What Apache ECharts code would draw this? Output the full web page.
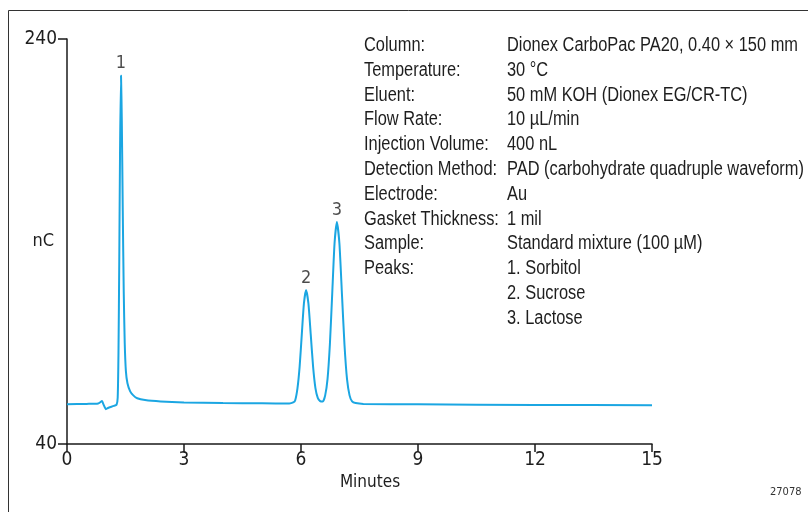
<!DOCTYPE html>
<html>
<head>
<meta charset="utf-8">
<script src="https://cdn.jsdelivr.net/npm/echarts@6/dist/echarts.min.js"></script>
<style>
  html, body { margin: 0; padding: 0; background: #fff; }
  #chart { width: 808px; height: 512px; }
</style>
</head>
<body>
<div id="chart"></div>
<script>
const AXIS_FONT = "'DejaVu Sans Condensed', 'Liberation Sans', sans-serif";
const TEXT_FONT = "'Liberation Sans', Arial, sans-serif";

// retention time (min) and detector response (nC)
const times = [0, 0.5, 0.8, 0.9, 0.93, 1.0, 1.05, 1.2, 1.27, 1.30, 1.32, 1.34, 1.36, 1.385, 1.405, 1.43, 1.455, 1.48, 1.51, 1.55, 1.62, 1.7, 1.8, 2.0, 2.4, 3.0, 4.0, 5.0, 5.7, 5.8, 5.85, 5.91, 5.965, 6.02, 6.075, 6.13, 6.19, 6.25, 6.31, 6.37, 6.43, 6.49, 6.56, 6.62, 6.68, 6.74, 6.80, 6.86, 6.92, 6.985, 7.05, 7.115, 7.18, 7.245, 7.31, 7.4, 7.6, 9, 12, 15];
const signal = [59.6, 59.8, 60.0, 61.2, 59.8, 57.2, 57.8, 58.8, 59.4, 63, 85, 130, 185, 222, 200, 155, 115, 90, 76, 70, 66, 64, 62.6, 61.7, 61.0, 60.5, 60.2, 60.1, 60.0, 60.5, 61.5, 67.6, 78.2, 94, 109.4, 116, 109.4, 94, 78.2, 67.6, 62.8, 61.2, 61.0, 64, 72, 89, 114, 139, 149.6, 139, 114, 89, 72, 64, 61, 60.2, 59.8, 59.6, 59.3, 59.1];

const peakTimes = [1.385, 6.13, 6.92];
const peakValues = [222, 116, 149.6];
const peakNames = ['1', '2', '3'];

const yTicks = [40, 240];

const infoLabels = ['Column:', 'Temperature:', 'Eluent:', 'Flow Rate:', 'Injection Volume:', 'Detection Method:', 'Electrode:', 'Gasket Thickness:', 'Sample:', 'Peaks:', '', ''];
const infoValues = ['Dionex CarboPac PA20, 0.40 \u00d7 150 mm', '30 \u00b0C', '50 mM KOH (Dionex EG/CR-TC)', '10 \u00b5L/min', '400 nL', 'PAD (carbohydrate quadruple waveform)', 'Au', '1 mil', 'Standard mixture (100 \u00b5M)', '1. Sorbitol', '2. Sucrose', '3. Lactose'];

const chart = echarts.init(document.getElementById('chart'), null, { renderer: 'canvas' });

const axisColor = '#1a1a1a';
const textColor = '#1e1e1e';
const traceColor = '#1ba6e2';

// narrow look for the conditions table: regular face squeezed horizontally
function infoText(x, lines) {
  return {
    type: 'text',
    x: x,
    y: 33,
    scaleX: 0.82,
    style: {
      text: lines.join('\n'),
      font: '20px ' + TEXT_FONT,
      lineHeight: 24.8,
      fill: textColor,
      verticalAlign: 'top',
    },
  };
}

chart.setOption({
  animation: false,
  backgroundColor: '#fff',
  textStyle: { fontFamily: AXIS_FONT },
  grid: { left: 67, top: 39, width: 585, height: 405, containLabel: false, outerBoundsMode: 'none' },
  xAxis: {
    type: 'value',
    min: 0,
    max: 15,
    interval: 3,
    name: 'Minutes',
    nameLocation: 'middle',
    nameGap: 30,
    nameMoveOverlap: false,
    nameTextStyle: { fontSize: 17, color: textColor, fontFamily: AXIS_FONT, padding: [0, 0, 0, 21] },
    axisLine: { onZero: false, lineStyle: { color: axisColor, width: 1.5 } },
    axisTick: { show: true, length: 8, lineStyle: { color: axisColor, width: 1.5 } },
    axisLabel: { fontSize: 19, color: textColor, margin: 7, fontFamily: AXIS_FONT },
    splitLine: { show: false },
  },
  yAxis: {
    type: 'value',
    min: 40,
    max: 240,
    name: 'nC',
    nameLocation: 'middle',
    nameRotate: 0,
    nameGap: 13,
    nameMoveOverlap: false,
    nameTextStyle: { fontSize: 18, color: textColor, fontFamily: AXIS_FONT },
    axisLine: { show: true, lineStyle: { color: axisColor, width: 1.5 } },
    axisTick: { show: true, length: 9, customValues: yTicks, lineStyle: { color: axisColor, width: 1.5 } },
    axisLabel: { fontSize: 19, color: textColor, margin: 10, customValues: yTicks, fontFamily: AXIS_FONT },
    splitLine: { show: false },
  },
  series: [
    {
      name: 'trace',
      type: 'line',
      data: times.map((t, i) => [t, signal[i]]),
      showSymbol: false,
      smooth: 0.2,
      lineStyle: { color: traceColor, width: 2 },
      z: 2,
    },
    {
      name: 'peaks',
      type: 'scatter',
      data: peakTimes.map((t, i) => ({ value: [t, peakValues[i]], name: peakNames[i] })),
      symbolSize: 0,
      label: {
        show: true,
        position: 'top',
        distance: 3,
        formatter: (p) => p.name,
        fontSize: 18,
        color: textColor,
        fontFamily: AXIS_FONT,
      },
      emphasis: { disabled: true },
      z: 3,
    },
  ],
  graphic: [
    {
      type: 'rect',
      shape: { x: 8.5, y: 10.5, width: 900, height: 600 },
      style: { fill: 'none', stroke: '#333', lineWidth: 1 },
      silent: true,
    },
    infoText(364, infoLabels),
    infoText(507, infoValues),
    {
      type: 'text',
      x: 770,
      y: 487,
      style: { text: '27078', font: '11px ' + AXIS_FONT, fill: '#333' },
    },
  ],
});
</script>
</body>
</html>
